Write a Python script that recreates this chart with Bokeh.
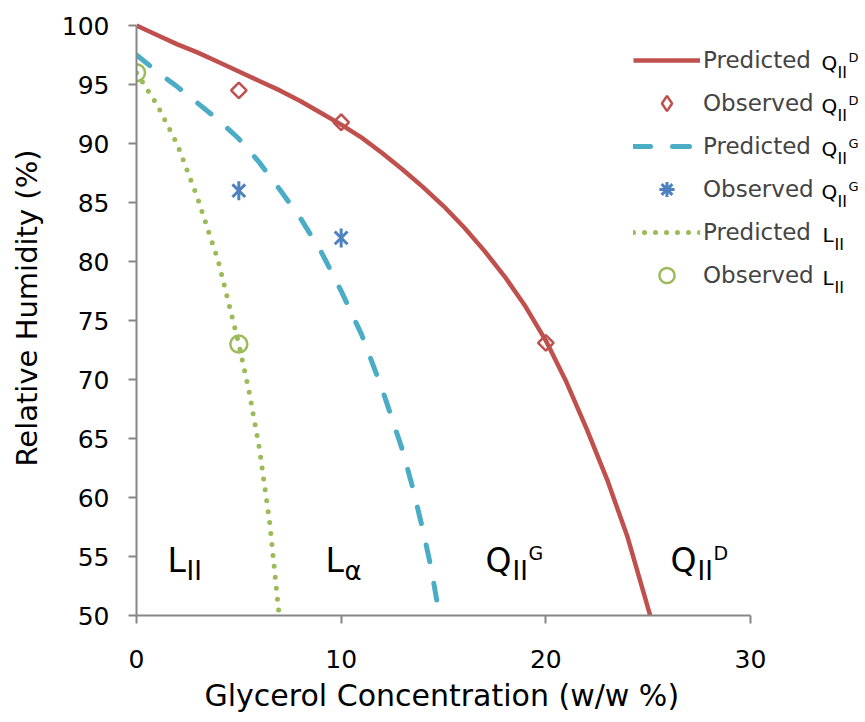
import numpy as np
from bokeh.plotting import figure
from bokeh.models import Legend, LegendItem, Label, Range1d, FixedTicker, Title
from bokeh.embed import file_html
from bokeh.resources import INLINE

# ---- data ----
qd_pred_x = [0, 1, 2, 3, 4, 5, 6, 7, 8, 9, 10, 11, 12, 13, 14, 15, 16, 17, 18, 19, 20, 21, 22, 23, 24, 25.1]
qd_pred_y = [100, 99.2, 98.4, 97.7, 96.9, 96.1, 95.3, 94.5, 93.6, 92.6, 91.6, 90.5, 89.2, 87.8, 86.3,
             84.7, 82.9, 80.9, 78.7, 76.2, 73.3, 69.8, 65.8, 61.5, 56.6, 50]
qd_obs_x = [5, 10, 20]
qd_obs_y = [94.5, 91.8, 73.1]

qg_pred_x = [0, 1, 2, 3, 4, 5, 6, 7, 8, 9, 10, 11, 12, 13, 13.5, 14, 14.4, 14.8]
qg_pred_y = [97.5, 96.1, 94.8, 93.4, 92.0, 90.4, 88.4, 86.1, 83.7, 80.9, 77.5, 73.8, 69.2, 64.0, 60.8, 57.2, 54.0, 50]
qg_obs_x = [5, 10]
qg_obs_y = [86, 82]

l_pred_x = [0, 1, 2, 3, 4, 5, 5.5, 6, 6.5, 6.97]
l_pred_y = [96, 93.3, 89.9, 85.3, 80.0, 73.0, 69.0, 64.2, 58.0, 50]
l_obs_x = [0, 5]
l_obs_y = [96, 73]

x_ticks = [0, 10, 20, 30]
y_ticks = [50, 55, 60, 65, 70, 75, 80, 85, 90, 95, 100]

x_title = "Glycerol Concentration (w/w %)"
y_title = "Relative Humidity (%)"

RED = "#C0504D"
AQUA = "#4BACC6"
BLUE = "#4F81BD"
GREEN = "#9BBB59"
AXIS = "#868686"
FONT = "DejaVu Sans"

W, H = 865, 722
# plot-area placement (page pixels): x 0..30 -> 136..750, y 100..50 -> 25..615
PX0, PX1, PY0, PY1 = 136, 750, 25, 615
XMIN, XMAX, YMIN, YMAX = 0, 30, 50, 100
xpp = (XMAX - XMIN) / (PX1 - PX0)
ypp = (YMAX - YMIN) / (PY1 - PY0)
x_end = XMIN + (W - PX0) * xpp      # frame reaches the right edge (room for legend)
y_end = YMIN + PY1 * ypp            # frame reaches the top edge

p = figure(width=W, height=H, x_range=Range1d(XMIN, x_end), y_range=Range1d(YMIN, y_end),
           output_backend="svg", toolbar_location=None,
           min_border_left=PX0, min_border_right=0, min_border_top=0, min_border_bottom=H - PY1,
           y_axis_label=y_title)
p.outline_line_color = None
p.grid.visible = False
p.xaxis.ticker = FixedTicker(ticks=x_ticks)
p.yaxis.ticker = FixedTicker(ticks=y_ticks)
p.xaxis.bounds = (XMIN, XMAX)
p.yaxis.bounds = (YMIN, YMAX)
for ax in p.axis:
    ax.axis_line_color = AXIS
    ax.axis_line_width = 2
    ax.major_tick_line_color = AXIS
    ax.major_tick_line_width = 2
    ax.major_tick_out = 8
    ax.major_tick_in = 0
    ax.minor_tick_out = 0
    ax.minor_tick_in = 0
    ax.major_label_text_font = FONT
    ax.major_label_text_font_size = "25px"
    ax.major_label_text_color = "black"
    ax.axis_label_text_font = FONT
    ax.axis_label_text_font_size = "29px"
    ax.axis_label_text_font_style = "normal"
    ax.axis_label_text_color = "black"
p.yaxis.major_label_standoff = 19
p.xaxis.major_label_standoff = 26
p.yaxis.axis_label_standoff = 15

# x-axis title centred under the 0..30 span (the frame itself is wider for the legend)
p.add_layout(Title(text=x_title, align="left", offset=68, vertical_align="top", standoff=14,
                   text_font=FONT, text_font_size="30px", text_font_style="normal",
                   text_color="black"), "below")

r_qd = p.line(qd_pred_x, qd_pred_y, line_color=RED, line_width=4.5)
r_qd_obs = p.scatter(qd_obs_x, qd_obs_y, marker="square", angle=np.pi / 4, size=11,
                     fill_color=None, line_color=RED, line_width=2.5)
r_qg = p.line(qg_pred_x, qg_pred_y, line_color=AQUA, line_width=5, line_dash="17 22", line_cap="round")
r_qg_obs1 = p.scatter(qg_obs_x, qg_obs_y, marker="x", size=18, line_color=BLUE, line_width=3)
r_qg_obs2 = p.scatter(qg_obs_x, qg_obs_y, marker="dash", angle=np.pi / 2, size=19, line_color=BLUE, line_width=3)
r_l = p.line(l_pred_x, l_pred_y, line_color=GREEN, line_width=5, line_dash="0 11", line_cap="round")
r_l_obs = p.scatter(l_obs_x, l_obs_y, marker="circle", size=17, fill_color=None, line_color=GREEN, line_width=2.5)

# legend-only key shapes (NaN = nothing drawn in the plot; legends do not rotate markers)
k_diamond = p.scatter(x=[np.nan], y=[np.nan], marker="diamond", fill_color=None, line_color=RED, line_width=2.5)
k_aster = p.scatter(x=[np.nan], y=[np.nan], marker="asterisk", line_color=BLUE, line_width=3)

ROW_H, ROW_GAP = 38, 5
legend_top = 60 - ROW_H / 2
legend_h = 6 * ROW_H + 5 * ROW_GAP
legend = Legend(items=[
    LegendItem(label="Predicted", renderers=[r_qd]),
    LegendItem(label="Observed", renderers=[k_diamond]),
    LegendItem(label="Predicted", renderers=[r_qg]),
    LegendItem(label="Observed", renderers=[k_aster]),
    LegendItem(label="Predicted", renderers=[r_l]),
    LegendItem(label="Observed", renderers=[r_l_obs]),
], location=(633 - PX0, int(PY1 - legend_top - legend_h)), padding=0, margin=0, spacing=ROW_GAP,
    glyph_width=67, glyph_height=ROW_H, label_height=ROW_H, label_standoff=3,
    label_text_font=FONT, label_text_font_size="23px",
    border_line_color=None, background_fill_alpha=0)
p.add_layout(legend)


def dx(px):
    return XMIN + (px - PX0) * xpp


def dy(py):
    return YMAX - (py - PY0) * ypp


def lab(text, px, py, size):
    p.add_layout(Label(x=dx(px), y=dy(py), text=text, text_font=FONT, text_font_size=f"{size}px",
                       text_color="black", text_align="left", text_baseline="alphabetic"))


# region labels
lab("L", 167, 560, 33); lab("II", 186, 570, 26)
lab("L", 325, 560, 33); lab("\u03b1", 344, 570, 26)
lab("Q", 485, 560, 33); lab("II", 512, 570, 26); lab("G", 528, 552, 19)
lab("Q", 670, 560, 33); lab("II", 697, 570, 26); lab("D", 713, 552, 19)

# legend sub/superscripts
sups = ["D", "D", "G", "G", None, None]
for i, s in enumerate(sups):
    yc = 60 + 43 * i
    if s is not None:
        lab("Q", 821, yc + 2, 20); lab("II", 837, yc + 12, 16); lab(s, 848, yc - 3, 13)
    else:
        lab("L", 822, yc + 2, 20); lab("II", 834, yc + 12, 16)

open("out.html", "w").write(file_html(p, INLINE))
